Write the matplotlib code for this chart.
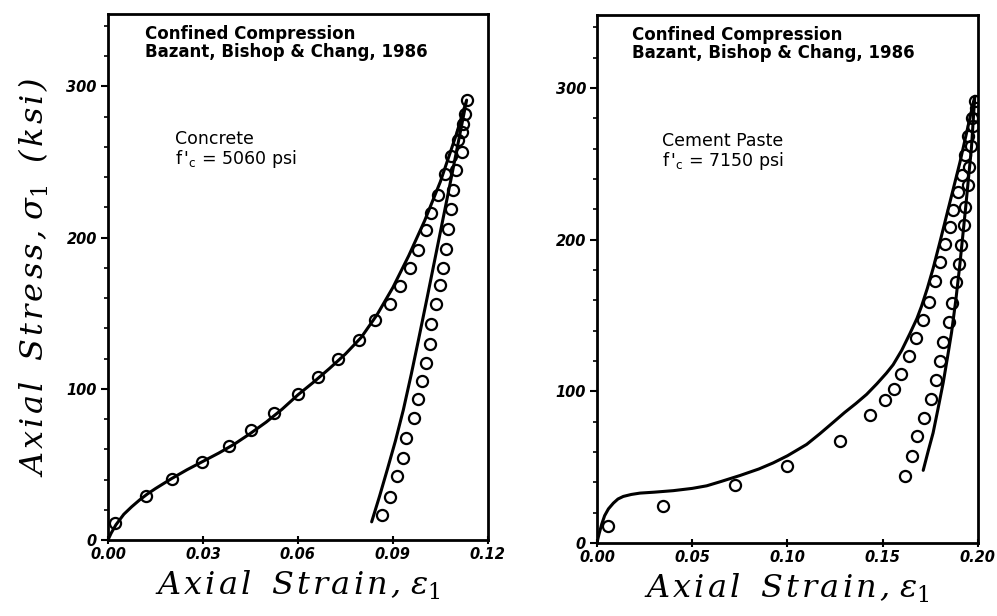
import matplotlib
matplotlib.use("Agg")
import matplotlib.pyplot as plt
from matplotlib.ticker import MultipleLocator, FixedLocator, FormatStrFormatter

plt.rcParams["mathtext.fontset"] = "dejavuserif"

# ---- Concrete (f'c = 5060 psi) ----
concrete_load_strain = [0.0022, 0.0119, 0.0203, 0.0296, 0.0383, 0.0451, 0.0524, 0.0599,
                        0.0664, 0.0727, 0.0793, 0.0843, 0.0890, 0.0922, 0.0954, 0.0980,
                        0.1006, 0.1022, 0.1043, 0.1064, 0.1085, 0.1106, 0.1122, 0.1133]
concrete_load_stress = [11.4, 29.0, 40.3, 51.3, 62.4, 72.7, 84.2, 96.5,
                        108.0, 119.6, 132.6, 145.4, 156.4, 167.9, 179.6, 191.7,
                        204.9, 216.3, 228.0, 242.4, 253.8, 264.4, 275.4, 290.8]
concrete_unload_strain = [0.1127, 0.1117, 0.1117, 0.1101, 0.1090, 0.1085, 0.1075, 0.1067,
                          0.1059, 0.1048, 0.1036, 0.1020, 0.1017, 0.1004, 0.0991, 0.0978,
                          0.0966, 0.0943, 0.0932, 0.0912, 0.0890, 0.0867]
concrete_unload_stress = [282.0, 269.9, 256.6, 244.5, 231.3, 219.2, 206.0, 192.8,
                          179.6, 168.5, 156.4, 143.2, 129.5, 117.2, 105.1, 93.0,
                          80.4, 67.2, 54.4, 42.3, 28.6, 16.5]
concrete_model_strain = [0.0, 0.001, 0.0025, 0.005, 0.0075, 0.010, 0.0125, 0.015, 0.020,
                         0.025, 0.030, 0.035, 0.040, 0.045, 0.050, 0.055, 0.060, 0.065,
                         0.070, 0.075, 0.080, 0.085, 0.090, 0.095, 0.100, 0.105, 0.110,
                         0.1133,
                         0.1108, 0.1083, 0.1058, 0.1033, 0.1008, 0.0983, 0.0958, 0.0933,
                         0.0908, 0.0883, 0.0858, 0.0833]
concrete_model_stress = [0.0, 4.5, 10.0, 17.0, 22.0, 26.5, 30.5, 34.0, 40.5,
                         46.5, 52.0, 57.5, 63.5, 70.5, 78.0, 86.5, 96.0, 104.5,
                         113.5, 123.0, 134.0, 149.0, 167.0, 188.0, 211.0, 237.0, 268.0,
                         291.0,
                         264.5, 238.0, 212.0, 186.0, 160.0, 134.5, 109.5, 86.0,
                         65.5, 47.0, 29.0, 12.0]

# ---- Cement paste (f'c = 7150 psi) ----
paste_load_strain = [0.0059, 0.0345, 0.0726, 0.0996, 0.1276, 0.1433, 0.1512, 0.1559,
                     0.1596, 0.1640, 0.1675, 0.1713, 0.1745, 0.1774, 0.1801, 0.1827,
                     0.1853, 0.1870, 0.1897, 0.1915, 0.1932, 0.1949, 0.1967, 0.1984]
paste_load_stress = [11.5, 24.5, 38.4, 50.5, 67.1, 84.3, 94.0, 101.3,
                     111.7, 123.0, 134.9, 147.0, 158.7, 173.0, 185.2, 197.4,
                     208.4, 219.4, 231.6, 242.6, 255.8, 268.0, 280.1, 291.2]
paste_unload_strain = [0.1988, 0.1974, 0.1966, 0.1956, 0.1947, 0.1935, 0.1926, 0.1914,
                       0.1900, 0.1883, 0.1865, 0.1848, 0.1818, 0.1801, 0.1780, 0.1753,
                       0.1718, 0.1678, 0.1655, 0.1617]
paste_unload_stress = [286.8, 274.6, 261.4, 248.1, 236.0, 221.7, 209.5, 196.2,
                       184.1, 171.9, 158.3, 145.5, 132.6, 120.1, 107.5, 95.2,
                       82.6, 70.4, 57.2, 44.4]
paste_model_strain = [0.0, 0.0005, 0.0013, 0.0025, 0.004, 0.006, 0.0086, 0.011, 0.0138,
                      0.018, 0.0226, 0.030, 0.040, 0.050, 0.0576, 0.065, 0.0751, 0.085,
                      0.0925, 0.100, 0.1101, 0.117, 0.124, 0.130, 0.136, 0.1416, 0.147,
                      0.152, 0.1555, 0.160, 0.1643, 0.168, 0.1704, 0.1735, 0.1765, 0.180,
                      0.1836, 0.187, 0.1906, 0.194, 0.1965, 0.1984,
                      0.1966, 0.1935, 0.1905, 0.1885, 0.1862, 0.1840, 0.1818, 0.1790,
                      0.1765, 0.1740, 0.1713]
paste_model_stress = [0.0, 3.0, 7.0, 12.5, 18.0, 22.5, 26.3, 29.0, 30.7,
                      32.0, 32.9, 33.5, 34.5, 36.0, 37.7, 40.5, 44.5, 48.8,
                      52.8, 57.5, 65.0, 72.0, 79.5, 86.0, 92.0, 98.0, 105.0,
                      112.0, 117.5, 127.0, 138.0, 148.0, 156.0, 168.0, 181.0, 198.0,
                      216.0, 233.0, 251.0, 270.0, 284.0, 294.5,
                      260.0, 220.0, 183.0, 160.9, 138.9, 122.0, 105.7, 88.0,
                      72.6, 61.0, 47.9]

panels = [
    dict(rect=[0.1083, 0.1234, 0.381, 0.854], xmax=0.12, xstep=0.03,
         material="Concrete", fc="5060",
         load=(concrete_load_strain, concrete_load_stress),
         unload=(concrete_unload_strain, concrete_unload_stress),
         model=(concrete_model_strain, concrete_model_stress),
         title_x=0.0117, mat_x=0.0212, ylabel=True),
    dict(rect=[0.5988, 0.1185, 0.382, 0.857], xmax=0.20, xstep=0.05,
         material="Cement Paste", fc="7150",
         load=(paste_load_strain, paste_load_stress),
         unload=(paste_unload_strain, paste_unload_stress),
         model=(paste_model_strain, paste_model_stress),
         title_x=0.0184, mat_x=0.0341, ylabel=False),
]


def spaced(word):
    """Open up the letter spacing of a word with hair spaces."""
    return "\u200a".join(word)


x_label = spaced("Axial") + "  " + spaced("Strain,") + " " + r"$\varepsilon_1$"
y_label = spaced("Axial") + "  " + spaced("Stress,") + " " + r"$\sigma_1$" + "  " + spaced("(ksi)")

fig = plt.figure(figsize=(9.97, 6.16), dpi=100)

tick_font = dict(family="DejaVu Sans", style="italic", weight="bold", size=10.5)
label_font = dict(family="DejaVu Serif", style="italic", size=23)
note_font = dict(family="DejaVu Sans", weight="bold", size=12)

for p in panels:
    ax = fig.add_axes(p["rect"])
    ax.set_xlim(0, p["xmax"])
    ax.set_ylim(0, 348)

    ax.plot(*p["model"], color="black", lw=2.2, solid_capstyle="round",
            solid_joinstyle="round", zorder=2)
    for xs, ys in (p["load"], p["unload"]):
        ax.plot(xs, ys, linestyle="none", marker="o", markersize=8,
                markerfacecolor="none", markeredgecolor="black",
                markeredgewidth=1.6, zorder=3)

    for s in ax.spines.values():
        s.set_linewidth(2.0)

    ax.xaxis.set_major_locator(MultipleLocator(p["xstep"]))
    ax.xaxis.set_major_formatter(FormatStrFormatter("%.2f"))
    ax.yaxis.set_major_locator(FixedLocator([0, 100, 200, 300]))
    ax.yaxis.set_minor_locator(MultipleLocator(20))
    ax.tick_params(axis="y", which="major", direction="out", length=5, width=1.5, pad=3)
    ax.tick_params(axis="y", which="minor", direction="out", length=3, width=1.2)
    ax.tick_params(axis="x", which="major", direction="inout", length=6, width=1.5, pad=2)
    for lab in ax.get_xticklabels() + ax.get_yticklabels():
        lab.set_fontfamily(tick_font["family"])
        lab.set_fontstyle(tick_font["style"])
        lab.set_fontweight(tick_font["weight"])
        lab.set_fontsize(tick_font["size"])

    ax.text(p["title_x"], 341, "Confined Compression\nBazant, Bishop & Chang, 1986",
            va="top", ha="left", linespacing=1.0, **note_font)
    ax.text(p["mat_x"], 271, p["material"] + "\n" + r"$\mathregular{f\,'_{c}}$" + " = " + p["fc"] + " psi",
            va="top", ha="left", linespacing=1.0,
            family="DejaVu Sans", size=12.5)

    ax.set_xlabel(x_label, labelpad=5, **label_font)
    if p["ylabel"]:
        ax.set_ylabel(y_label, labelpad=11, **label_font)

fig.savefig("out.png", dpi=100)
